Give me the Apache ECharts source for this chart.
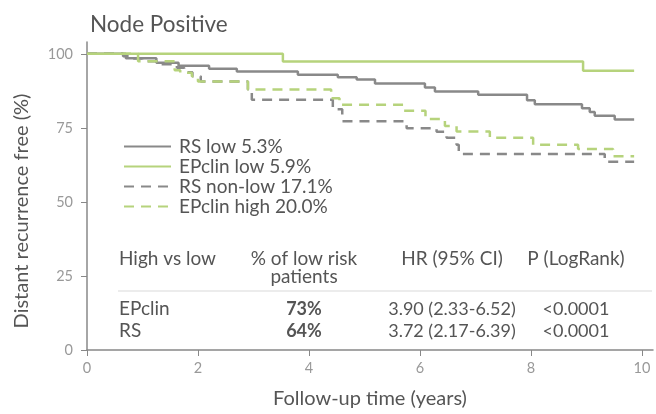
<!DOCTYPE html>
<html lang="en">
<head>
    <meta charset="UTF-8">
    <title>Node Positive</title>
    <script src="https://cdn.jsdelivr.net/npm/echarts@6/dist/echarts.min.js"></script>
</head>
<body style="margin: 0">
<div id="main" style="width: 656px;height: 414px"></div>
</body>

<script>
    // Kaplan-Meier curves (time in years, % recurrence free)
    const rsLowT = [0, 0.7, 1.25, 1.65, 2.2, 2.7, 3.8, 4.52, 4.86, 5.19, 6.09, 6.27, 7.05, 7.93, 8.07, 8.92, 9.06, 9.15, 9.51, 9.86];
    const rsLowV = [100, 98.5, 97, 96, 95, 94, 92.9, 92.1, 91.3, 90, 88.6, 87.3, 86.2, 84.3, 83, 81.6, 80.4, 79.1, 77.8, 77.8];

    const epLowT = [0, 3.53, 8.94, 9.86];
    const epLowV = [100, 97.4, 94.3, 94.3];

    const rsHighT = [0, 0.65, 0.78, 1.0, 1.3, 1.62, 1.75, 1.9, 2.05, 2.9, 2.97, 4.43, 4.6, 5.76, 6.3, 6.48, 6.66, 6.7, 9.33, 9.86];
    const rsHighV = [100, 99.2, 98.4, 97.5, 96.5, 95.3, 93.8, 92.4, 90.7, 88, 84.5, 81.3, 77.2, 74.9, 73.7, 71.7, 69.3, 66.2, 63.6, 63.6];

    const epHighT = [0, 0.92, 1.58, 1.68, 1.89, 2.0, 2.9, 4.4, 4.55, 5.7, 6.1, 6.45, 6.66, 7.26, 8.04, 8.85, 9.48, 9.86];
    const epHighV = [100, 97.5, 94.5, 93.6, 92.4, 90.7, 88, 85, 82.8, 80.8, 78, 75.6, 73.8, 71.7, 69.3, 67.9, 65.4, 65.4];

    const seriesNames = ['RS low 5.3%', 'EPclin low 5.9%', 'RS non-low 17.1%', 'EPclin high 20.0%'];
    const xTicks = [0, 2, 4, 6, 8, 10];
    const yTicks = [0, 25, 50, 75, 100];

    // table under the legend
    const tableHead = ['High vs low', '% of low risk\npatients', 'HR (95% CI)', 'P (LogRank)'];
    const tableRows = [
        ['EPclin', '73%', '3.90 (2.33-6.52)', '<0.0001'],
        ['RS', '64%', '3.72 (2.17-6.39)', '<0.0001']
    ];

    const gray = '#898989';
    const green = '#b6d37c';
    const font = 'Lato, "Open Sans", sans-serif';

    const zip = (t, v) => t.map((x, i) => [x, v[i]]);

    const chart = echarts.init(document.getElementById('main'));

    const colX = [119, 304, 452, 576];
    const graphics = [];
    tableHead.forEach((h, i) => {
        graphics.push({
            type: 'text',
            x: colX[i], y: 250,
            style: {
                text: h, fill: '#555', font: '19px ' + font,
                align: i === 0 ? 'left' : 'center', verticalAlign: 'top', lineHeight: 18
            }
        });
    });
    graphics.push({
        type: 'line',
        shape: {x1: 118, y1: 291, x2: 652, y2: 291},
        style: {stroke: '#e6e6e6', lineWidth: 1.5}
    });
    tableRows.forEach((row, r) => {
        row.forEach((c, i) => {
            let f = i === 0 ? '19px ' : '18px ';
            if (i === 1) f = 'bold ' + f;
            graphics.push({
                type: 'text',
                x: colX[i], y: 309 + r * 22,
                style: {
                    text: c, fill: '#555', font: f + font,
                    align: i === 0 ? 'left' : 'center', verticalAlign: 'middle'
                }
            });
        });
    });

    const option = {
        animation: false,
        title: {
            text: 'Node Positive',
            left: 85, top: 8,
            textStyle: {fontSize: 22.5, fontWeight: 'normal', color: '#555', fontFamily: font}
        },
        legend: {
            data: seriesNames,
            orient: 'vertical',
            left: 118, top: 132,
            itemWidth: 47, itemHeight: 14, itemGap: 1,
            itemStyle: {opacity: 0},
            textStyle: {fontSize: 19, color: '#555', fontFamily: font, padding: [0, 0, 0, 3]}
        },
        grid: {left: 87, right: 3, top: 42, bottom: 60},
        xAxis: {
            type: 'value', min: 0, max: 10.2,
            name: 'Follow-up time (years)', nameLocation: 'middle', nameGap: 39,
            nameTextStyle: {fontSize: 20, color: '#555', fontFamily: font},
            axisLine: {lineStyle: {color: '#888', width: 1.5}},
            axisTick: {customValues: xTicks, length: 6, lineStyle: {color: '#888'}},
            axisLabel: {customValues: xTicks, color: '#999', fontSize: 14.5, fontFamily: font, margin: 11},
            splitLine: {show: false}
        },
        yAxis: {
            type: 'value', min: 0, max: 104,
            name: 'Distant recurrence free (%)', nameLocation: 'middle', nameGap: 55,
            nameTextStyle: {fontSize: 20, color: '#555', fontFamily: font, padding: [0, 30, 0, 0]},
            axisLine: {show: true, lineStyle: {color: '#888', width: 1.5}},
            axisTick: {show: true, customValues: yTicks, length: 6, lineStyle: {color: '#888'}},
            axisLabel: {customValues: yTicks, color: '#999', fontSize: 14.5, fontFamily: font, margin: 14},
            splitLine: {show: false}
        },
        graphic: graphics,
        series: [
            {name: seriesNames[0], data: zip(rsLowT, rsLowV), lineStyle: {color: gray, width: 2.5}, itemStyle: {color: gray}},
            {name: seriesNames[1], data: zip(epLowT, epLowV), lineStyle: {color: green, width: 2.5}, itemStyle: {color: green}},
            {name: seriesNames[2], data: zip(rsHighT, rsHighV), lineStyle: {color: gray, width: 2.5, type: [10, 7]}, itemStyle: {color: gray}},
            {name: seriesNames[3], data: zip(epHighT, epHighV), lineStyle: {color: green, width: 2.5, type: [10, 7]}, itemStyle: {color: green}}
        ].map(s => Object.assign({type: 'line', step: 'end', symbol: 'none'}, s))
    };

    option && chart.setOption(option);
</script>

</html>
